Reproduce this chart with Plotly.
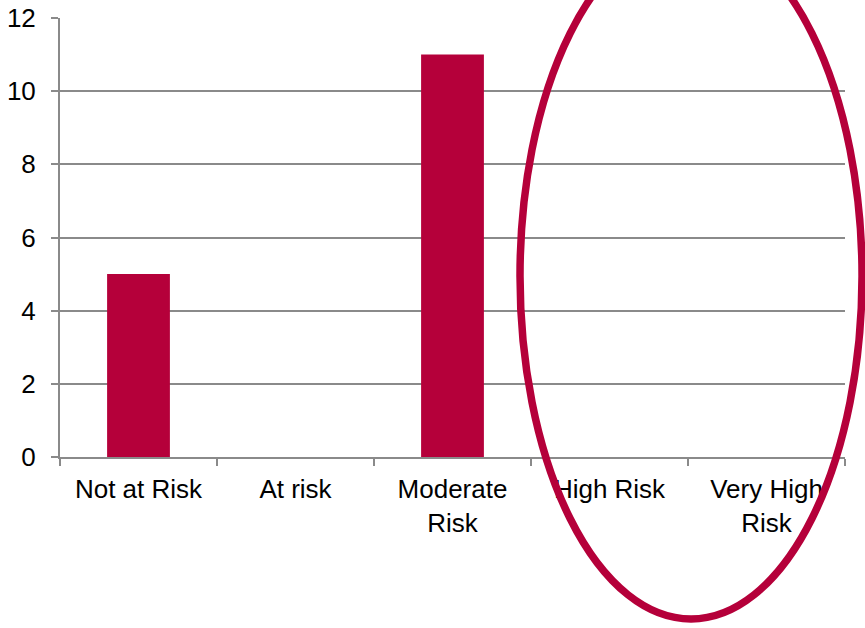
import plotly.graph_objects as go

categories = ["Not at Risk", "At risk", "Moderate<br>Risk", "High Risk", "Very High<br>Risk"]
values = [5, 0, 11, 0, 0]
y_ticks = [0, 2, 4, 6, 8, 10, 12]

RED = "#B5003A"
GRID = "#8A8A8A"

fig = go.Figure()
fig.add_trace(go.Bar(x=categories, y=values, marker=dict(color=RED, line=dict(width=0))))

fig.update_layout(
    width=865, height=628,
    margin=dict(l=60, r=20, t=18, b=171),
    paper_bgcolor="white", plot_bgcolor="white",
    bargap=0.6,
    showlegend=False,
    font=dict(family="Liberation Sans, Arial, sans-serif", size=26, color="black"),
)
fig.update_xaxes(
    type="category", range=[-0.5, 4.5], automargin=False,
    showline=True, linecolor=GRID, linewidth=2,
    ticks="outside", tickson="boundaries", ticklen=7, tickcolor=GRID, tickwidth=2,
    showgrid=False, ticklabelstandoff=8,
)
fig.update_yaxes(
    range=[0, 12], tickvals=y_ticks, automargin=False,
    showline=True, linecolor=GRID, linewidth=2,
    ticks="outside", ticklen=7, tickcolor=GRID, tickwidth=2,
    showgrid=True, gridcolor=GRID, gridwidth=2,
    zeroline=False, ticklabelstandoff=10,
)
fig.add_shape(
    type="circle", xref="paper", yref="paper",
    x0=0.586, x1=1.0217, y0=-0.369, y1=1.194,
    line=dict(color=RED, width=7.5), layer="above",
)
fig.write_html("out.html")
